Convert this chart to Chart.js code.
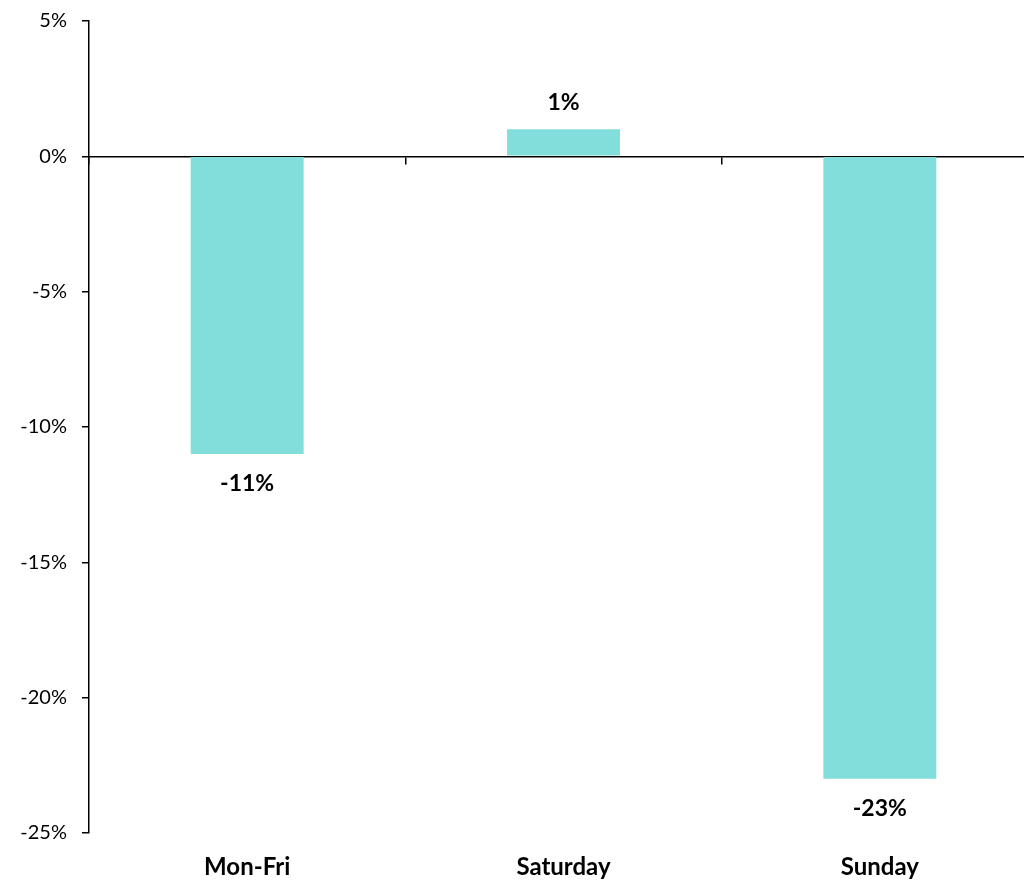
<!DOCTYPE html>
<html>
<head>
<meta charset="utf-8">
<script src="https://cdn.jsdelivr.net/npm/chart.js@4.4.1/dist/chart.umd.min.js"></script>
<style>
html,body{margin:0;padding:0;background:#fff;overflow:hidden;width:1024px;height:880px;}
#wrap{position:absolute;left:0;top:0;width:1040px;height:880px;}
</style>
</head>
<body>
<div id="wrap"><canvas id="c" width="1040" height="880"></canvas></div>
<script>
const categories = ['Mon-Fri', 'Saturday', 'Sunday'];
const changePct = [-11, 1, -23];
const yMin = -25, yMax = 5, yStep = 5;

const FONT = "Lato, 'Open Sans', sans-serif";

const valueLabels = {
  id: 'valueLabels',
  afterDatasetsDraw(chart) {
    const ctx = chart.ctx;
    const meta = chart.getDatasetMeta(0);
    const ys = chart.scales.y;
    ctx.save();
    ctx.font = "bold 23px " + FONT;
    ctx.fillStyle = '#000';
    ctx.textAlign = 'center';
    ctx.textBaseline = 'middle';
    meta.data.forEach((bar, i) => {
      const v = changePct[i];
      const yEnd = ys.getPixelForValue(v);
      const y = v >= 0 ? yEnd - 27 : yEnd + 30;
      ctx.fillText(v + '%', bar.x, y);
    });
    ctx.restore();
  }
};

new Chart(document.getElementById('c'), {
  type: 'bar',
  data: {
    labels: categories,
    datasets: [{
      data: changePct,
      backgroundColor: '#82DEDB',
      borderWidth: 0,
      barPercentage: 0.357,
      categoryPercentage: 1.0,
      xAxisID: 'x'
    }]
  },
  options: {
    responsive: false,
    animation: false,
    layout: { padding: { top: 21, right: 2, left: 0, bottom: 0 } },
    plugins: { legend: { display: false }, tooltip: { enabled: false } },
    scales: {
      x: {
        type: 'category',
        position: { y: 0 },
        offset: true,
        grid: { offset: true, drawOnChartArea: false, drawTicks: true, tickLength: 7, color: '#000', lineWidth: 1.5 },
        border: { display: true, color: '#000', width: 1.5 },
        ticks: { display: false }
      },
      x2: {
        type: 'category',
        position: 'bottom',
        offset: true,
        grid: { display: false, drawTicks: false },
        border: { display: false },
        ticks: { font: { family: FONT, size: 24, weight: 'bold' }, color: '#000', padding: 20 },
        afterFit(scale) { scale.height = 47; scale.paddingLeft = 0; scale.paddingRight = 0; }
      },
      y: {
        min: yMin,
        max: yMax,
        ticks: {
          stepSize: yStep,
          font: { family: FONT, size: 20 },
          color: '#000',
          padding: 15,
          callback: v => v + '%'
        },
        grid: { drawOnChartArea: false, drawTicks: true, tickLength: 7, color: '#000', lineWidth: 1.5 },
        border: { display: true, color: '#000', width: 1.5 },
        afterFit(scale) { scale.width = 89; scale.paddingTop = 0; scale.paddingBottom = 0; }
      }
    }
  },
  plugins: [valueLabels]
});
</script>
</body>
</html>
